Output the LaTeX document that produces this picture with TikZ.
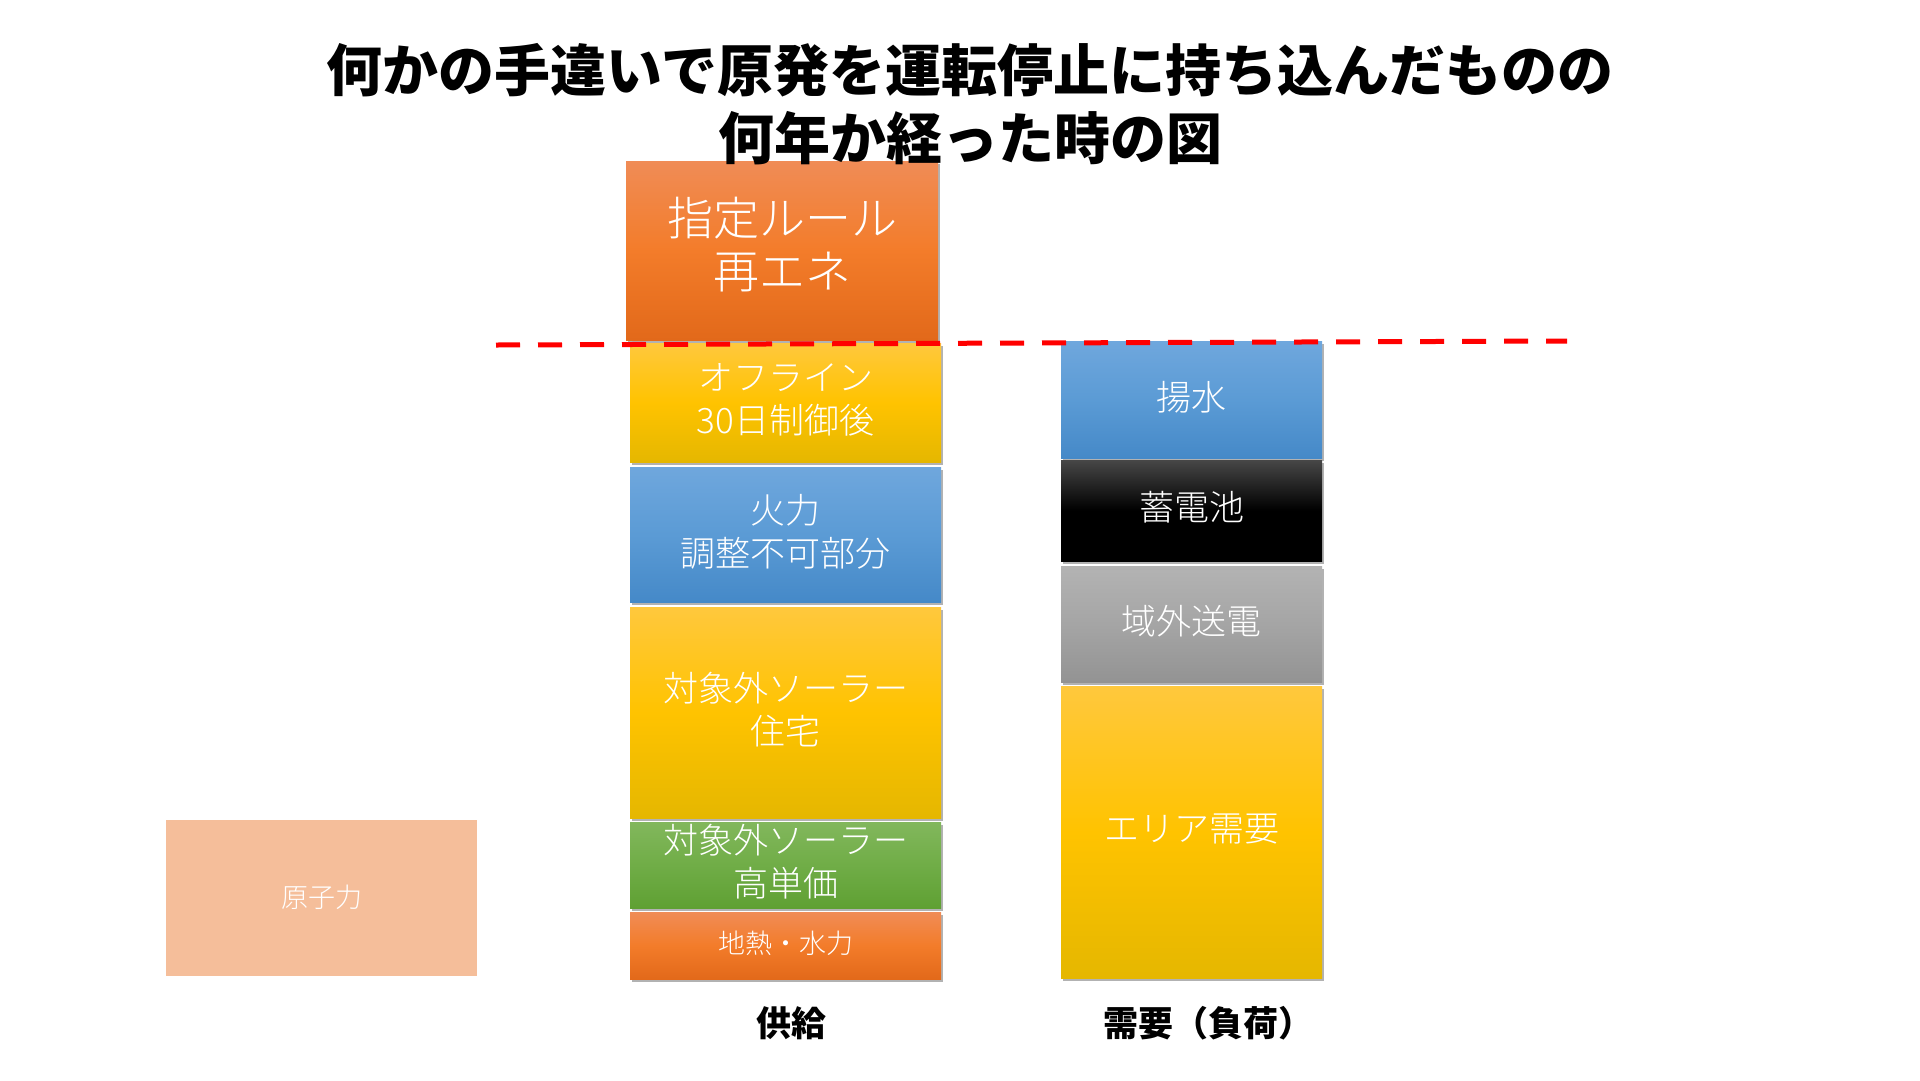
\documentclass[tikz,border=0pt]{standalone}
\usepackage{fontspec}
\setmainfont{Noto Sans CJK JP}
\newfontfamily\jplight{Noto Sans CJK JP Light}
\usetikzlibrary{shadows}
\definecolor{orT}{HTML}{F08C56}\definecolor{orM}{HTML}{F37C2A}\definecolor{orB}{HTML}{E2691A}
\definecolor{yeT}{HTML}{FFC83D}\definecolor{yeM}{HTML}{FFC300}\definecolor{yeB}{HTML}{E5B700}
\definecolor{blT}{HTML}{6FA7DD}\definecolor{blM}{HTML}{5B9BD5}\definecolor{blB}{HTML}{4589C8}
\definecolor{grT}{HTML}{82B75C}\definecolor{grM}{HTML}{70AD47}\definecolor{grB}{HTML}{5FA033}
\definecolor{bkT}{HTML}{474747}\definecolor{bkM}{HTML}{000000}\definecolor{bkB}{HTML}{000000}
\definecolor{gyT}{HTML}{B3B3B3}\definecolor{gyM}{HTML}{A5A5A5}\definecolor{gyB}{HTML}{939393}
\definecolor{peach}{HTML}{F5BE9A}
\tikzset{
  blk/.style={inner sep=0pt,
    drop shadow={shadow xshift=2pt, shadow yshift=-3pt, opacity=0.3, fill=black}},
  txt/.style={inner sep=0pt, text=white, align=center, font=\jplight\fontsize{35}{43}\selectfont},
  grad/.style={top color=#1T, bottom color=#1B, middle color=#1M},
  lbl/.style={font=\bfseries\fontsize{35}{40}\selectfont, text=black, inner sep=0pt},
  ttl/.style={font=\bfseries\fontsize{56}{68}\selectfont, text=black, align=center, inner sep=0pt},
  redline/.style={draw=red, line width=5pt, dash pattern=on 24pt off 18pt}
}
\begin{document}
\begin{tikzpicture}[x=1pt,y=-1pt]
\useasboundingbox (0,0) rectangle (1920,1080);
% supply column
\node[blk, grad=or, minimum width=312pt, minimum height=179pt] (saisei) at (782,250.5) {};
\node[blk, grad=ye, minimum width=311pt, minimum height=119pt] (offline) at (785.5,402.5) {};
\node[blk, grad=bl, minimum width=311pt, minimum height=135pt] (karyoku) at (785.5,534.5) {};
\node[blk, grad=ye, minimum width=311pt, minimum height=211pt] (jutaku) at (785.5,712.5) {};
\node[blk, grad=gr, minimum width=311pt, minimum height=86pt] (kotanka) at (785.5,865) {};
\node[blk, grad=or, minimum width=311pt, minimum height=67pt] (chinetsu) at (785.5,945.5) {};
% demand column
\node[blk, grad=bl, minimum width=261pt, minimum height=117pt] (yousui) at (1191.5,399.5) {};
\node[blk, grad=bk, minimum width=261pt, minimum height=101pt] (chikuden) at (1191.5,510.5) {};
\node[blk, grad=gy, minimum width=261pt, minimum height=116pt] (ikigai) at (1191.5,624) {};
\node[blk, grad=ye, minimum width=261pt, minimum height=292pt] (area) at (1191.5,832) {};
% nuclear
\node[inner sep=0pt, fill=peach, minimum width=311pt, minimum height=156pt] (genshi) at (321.5,898) {};
% box texts
\node[txt, font=\jplight\fontsize{46}{53}\selectfont] (saisei-t) at ([yshift=6pt]saisei.center) {指定ルール\\再エネ};
\node[txt] (offline-t) at ([yshift=3pt]offline.center) {オフライン\\30日制御後};
\node[txt] (karyoku-t) at ([yshift=3pt]karyoku.center) {火力\\調整不可部分};
\node[txt] (jutaku-t) at ([yshift=3pt]jutaku.center) {対象外ソーラー\\住宅};
\node[txt] (kotanka-t) at ([yshift=3pt]kotanka.center) {対象外ソーラー\\高単価};
\node[txt, font=\jplight\fontsize{27}{32}\selectfont] (chinetsu-t) at ([yshift=2pt]chinetsu.center) {地熱・水力};
\node[txt] (yousui-t) at ([yshift=2pt]yousui.center) {揚水};
\node[txt] (chikuden-t) at ([yshift=3pt]chikuden.center) {蓄電池};
\node[txt] (ikigai-t) at ([yshift=3pt]ikigai.center) {域外送電};
\node[txt] (area-t) at ([yshift=3pt]area.center) {エリア需要};
\node[txt, font=\jplight\fontsize{27}{32}\selectfont] (genshi-t) at ([yshift=1pt]genshi.center) {原子力};
% labels
\node[lbl] (kyokyu) at (791,1023) {供給};
\node[lbl] (juyo) at (1208,1023) {需要（負荷）};
% dashed line
\coordinate (dl) at (496,345);
\coordinate (dr) at (1567,341);
\draw[redline] (dl) -- (dr);
% title
\node[ttl] (title) at (970,104) {何かの手違いで原発を運転停止に持ち込んだものの\\何年か経った時の図};
\end{tikzpicture}
\end{document}
